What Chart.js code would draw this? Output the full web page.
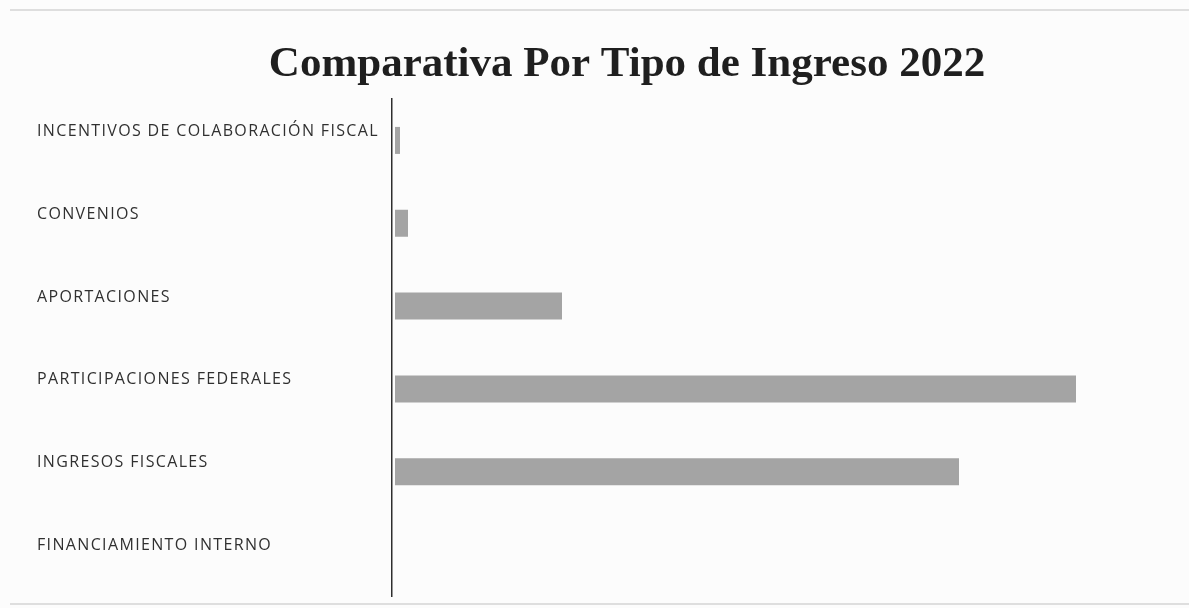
<!DOCTYPE html>
<html lang="es">
<head>
<meta charset="utf-8">
<title>Comparativa Por Tipo de Ingreso 2022</title>
<script src="https://cdn.jsdelivr.net/npm/chart.js@4/dist/chart.umd.min.js"></script>
<style>
    html, body { margin: 0; padding: 0; background: #fcfcfc; }
    #wrap { position: relative; width: 1189px; height: 608px; overflow: hidden; }
    .rule { position: absolute; left: 10px; right: 0; height: 2px; background: #dedede; }
    #ruleTop { top: 9px; }
    #ruleBottom { top: 603px; }
    #incomeChart { position: absolute; left: 0; top: 0; }
</style>
</head>
<body>
<div id="wrap">
    <div class="rule" id="ruleTop"></div>
    <div class="rule" id="ruleBottom"></div>
    <canvas id="incomeChart" width="1189" height="608"></canvas>
</div>
<script>
const chartTitle = "Comparativa Por Tipo de Ingreso 2022";

const categories = [
    "INCENTIVOS DE COLABORACIÓN FISCAL",
    "CONVENIOS",
    "APORTACIONES",
    "PARTICIPACIONES FEDERALES",
    "INGRESOS FISCALES",
    "FINANCIAMIENTO INTERNO"
];

// relative amounts
const amounts = [5, 13, 167, 681, 564, 0];

const BAR_GREY = "#a4a4a4";
const AXIS_DARK = "#2e2e2e";

// the scanned labels are set wide, so add a little tracking while the axis draws
const spacingPlugin = {
    id: "labelSpacing",
    beforeDraw(chart) { chart.ctx.letterSpacing = "1.35px"; },
    afterDraw(chart) { chart.ctx.letterSpacing = "0px"; }
};

// title sits a bit right of the canvas centre in the original, so it is drawn here
const titlePlugin = {
    id: "titleAt",
    afterDraw(chart) {
        const ctx = chart.ctx;
        ctx.save();
        ctx.letterSpacing = "0px";
        ctx.font = "bold 43px 'Liberation Serif', 'Times New Roman', serif";
        ctx.fillStyle = "#1f1f1f";
        ctx.textAlign = "center";
        ctx.textBaseline = "alphabetic";
        ctx.fillText(chartTitle, 627, 76);
        ctx.restore();
    }
};

const incomeChart = new Chart(document.getElementById("incomeChart").getContext("2d"), {
    type: "bar",
    data: {
        labels: categories,
        datasets: [{
            label: "Ingresos 2022",
            data: amounts,
            backgroundColor: BAR_GREY,
            borderWidth: 0,
            inflateAmount: 0,
            barThickness: 27
        }]
    },
    options: {
        indexAxis: "y",
        responsive: false,
        animation: false,
        maintainAspectRatio: false,
        layout: { padding: { left: 37, right: 39, top: 99, bottom: 12 } },
        plugins: {
            legend: { display: false },
            tooltip: { enabled: false },
            title: { display: false }
        },
        scales: {
            x: {
                display: false,
                min: -3,
                max: 755
            },
            y: {
                grid: { display: false, drawTicks: false },
                border: { display: true, color: AXIS_DARK, width: 1.5 },
                afterFit(scale) { scale.width = 355; },
                ticks: {
                    crossAlign: "far",
                    labelOffset: -9,
                    padding: 0,
                    color: "#303030",
                    font: { family: "'Open Sans', 'Noto Sans', sans-serif", size: 16 }
                }
            }
        }
    },
    plugins: [spacingPlugin, titlePlugin]
});
</script>
</body>
</html>
